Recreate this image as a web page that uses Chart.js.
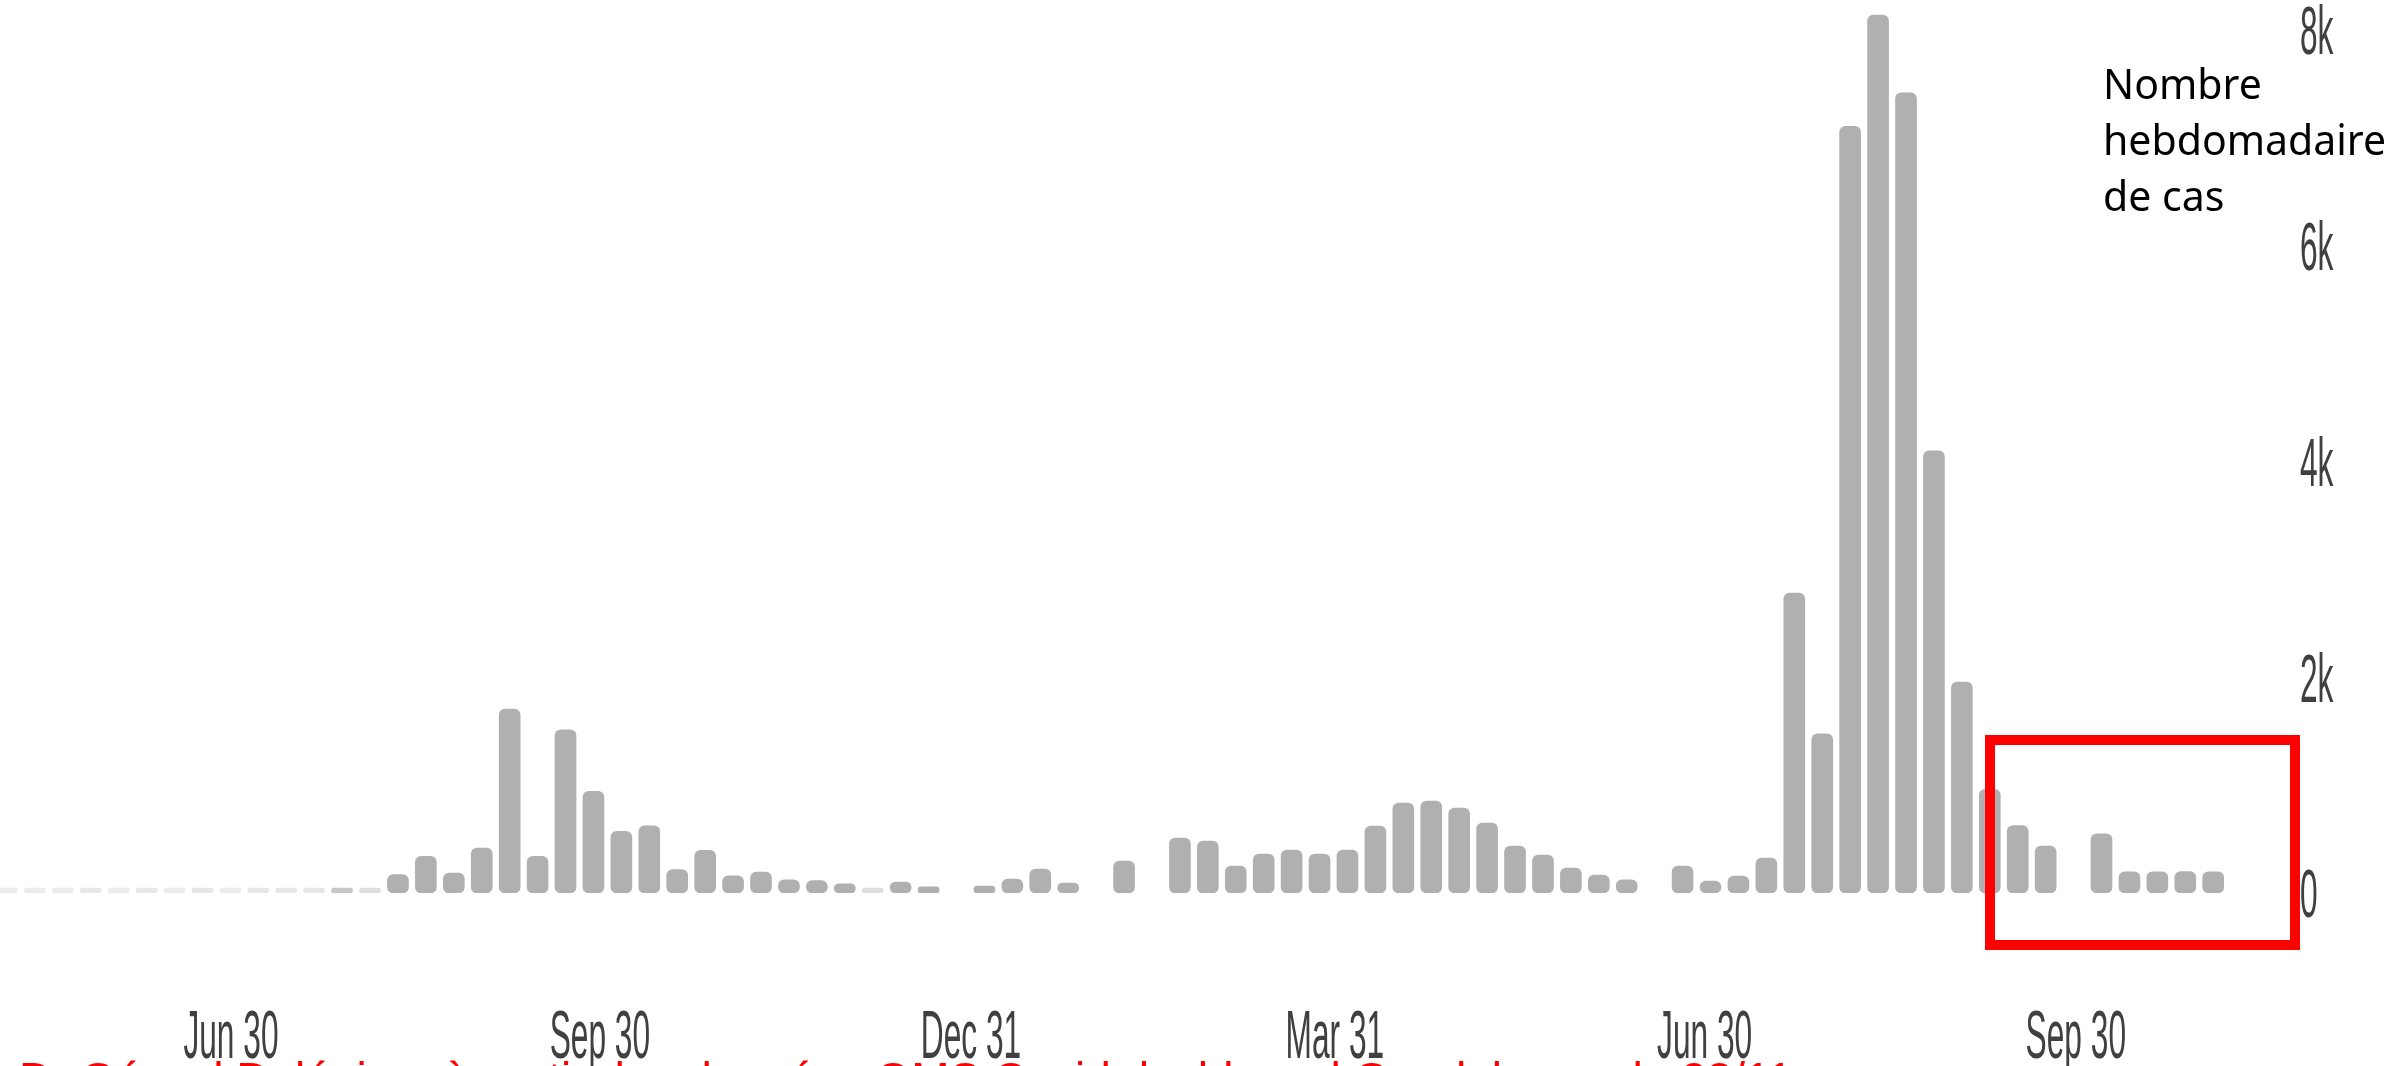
<!DOCTYPE html>
<html lang="fr">
<head>
    <meta charset="UTF-8">
    <title>Nombre hebdomadaire de cas</title>
    <script src="https://cdn.jsdelivr.net/npm/chart.js@4.4.0/dist/chart.umd.min.js"></script>
    <style>
        html, body { margin: 0; padding: 0; background: #fff; overflow: hidden; }
        .wrap { position: relative; width: 2403px; height: 1066px; }
        #casesChart { position: absolute; left: 0; top: 0; }
        /* légende de l'axe */
        .axis-note {
            position: absolute; left: 2103px; top: 55px;
            font: 41px/56px "Noto Sans", "Open Sans", sans-serif; color: #000;
        }
        /* cadre rouge sur les dernières semaines */
        .highlight {
            position: absolute; left: 1985px; top: 735px; width: 315px; height: 215px;
            border: 10px solid #ff0000; box-sizing: border-box;
        }
        .source {
            position: absolute; left: 19px; top: 1056px; white-space: nowrap;
            font: 46px/46px "Liberation Sans", Arial, sans-serif; color: #ff0000;
        }
    </style>
</head>
<body>
<div class="wrap">
    <canvas id="casesChart" width="2403" height="1066"></canvas>
    <div class="axis-note">Nombre<br>hebdomadaire<br>de cas</div>
    <div class="highlight"></div>
    <div class="source">Dr Gérard Delépine, à partir des données OMS Covid dashboard Guadeloupe du 23/11</div>
</div>

<script>
    // cas hebdomadaires, une valeur par semaine (null = pas de données)
    const weeklyCases = [
        3, 2, 3, 5, 3, 5, 3, 6, 3, 5, 5, 5, 25, 10,
        170, 340, 185, 417, 1704, 340, 1512, 941, 571, 623, 216, 395, 160, 194, 123, 114, 86, 10, 102, 58,
        null,
        65, 130, 222, 93,
        null,
        296,
        null,
        509, 481, 250, 361, 398, 361, 398, 620, 833, 852, 787, 648, 435, 352, 231, 167, 123,
        null,
        250, 111, 157, 324, 2778, 1475, 7100, 8130, 7410, 4095, 1954, 960, 625, 435,
        null,
        548, 195, 195, 198, 195
    ];

    // étiquettes de l'axe des dates (position en semaines)
    const xTickLabels = ['Jun 30', 'Sep 30', 'Dec 31', 'Mar 31', 'Jun 30', 'Sep 30'];
    const xTickWeeks = [8.02, 21.23, 34.52, 47.55, 60.79, 74.08];

    const yTickValues = [0, 2000, 4000, 6000, 8000];
    const yTickLabels = ['0', '2k', '4k', '6k', '8k'];

    const LABEL_SIZE = 36;

    // texte étiré verticalement comme sur l'image d'origine
    function drawStretched(ctx, text, px, py, align) {
        ctx.save();
        ctx.translate(px, py);
        ctx.scale(0.88, 1.9);
        ctx.textAlign = align;
        ctx.textBaseline = 'alphabetic';
        ctx.fillText(text, 0, 0.358 * LABEL_SIZE);
        ctx.restore();
    }

    const axisText = {
        id: 'axisText',
        afterDraw(chart) {
            const { ctx, chartArea } = chart;
            const xs = chart.scales.x, ys = chart.scales.y;
            ctx.save();
            ctx.fillStyle = '#404040';
            ctx.font = LABEL_SIZE + 'px "Liberation Sans", Arial, sans-serif';
            yTickValues.forEach((v, k) => {
                drawStretched(ctx, yTickLabels[k], chartArea.right + 10, ys.getPixelForValue(v), 'left');
            });
            xTickWeeks.forEach((w, k) => {
                drawStretched(ctx, xTickLabels[k], xs.getPixelForValue(w), chartArea.bottom + 141, 'center');
            });
            ctx.restore();
        }
    };

    const points = weeklyCases.map((v, i) => ({ x: i, y: v }));

    new Chart(document.getElementById('casesChart'), {
        type: 'bar',
        data: {
            datasets: [{
                data: points,
                barThickness: 21,
                borderRadius: 6,
                borderSkipped: false,
                minBarLength: 5,
                backgroundColor: (c) => {
                    const v = c.parsed ? c.parsed.y : 0;
                    if (v < 40) return `rgba(176,176,176,${(0.2 + 0.8 * v / 40).toFixed(2)})`;
                    return '#b0b0b0';
                }
            }]
        },
        options: {
            responsive: false,
            devicePixelRatio: 1,
            animation: false,
            layout: { padding: { left: 0, top: 0, right: 113, bottom: 173 } },
            plugins: { legend: { display: false }, tooltip: { enabled: false } },
            scales: {
                x: { type: 'linear', min: -0.25, max: 81.75, offset: false, display: false },
                y: { min: 0, max: 8270, display: false }
            }
        },
        plugins: [axisText]
    });
</script>
</body>
</html>
